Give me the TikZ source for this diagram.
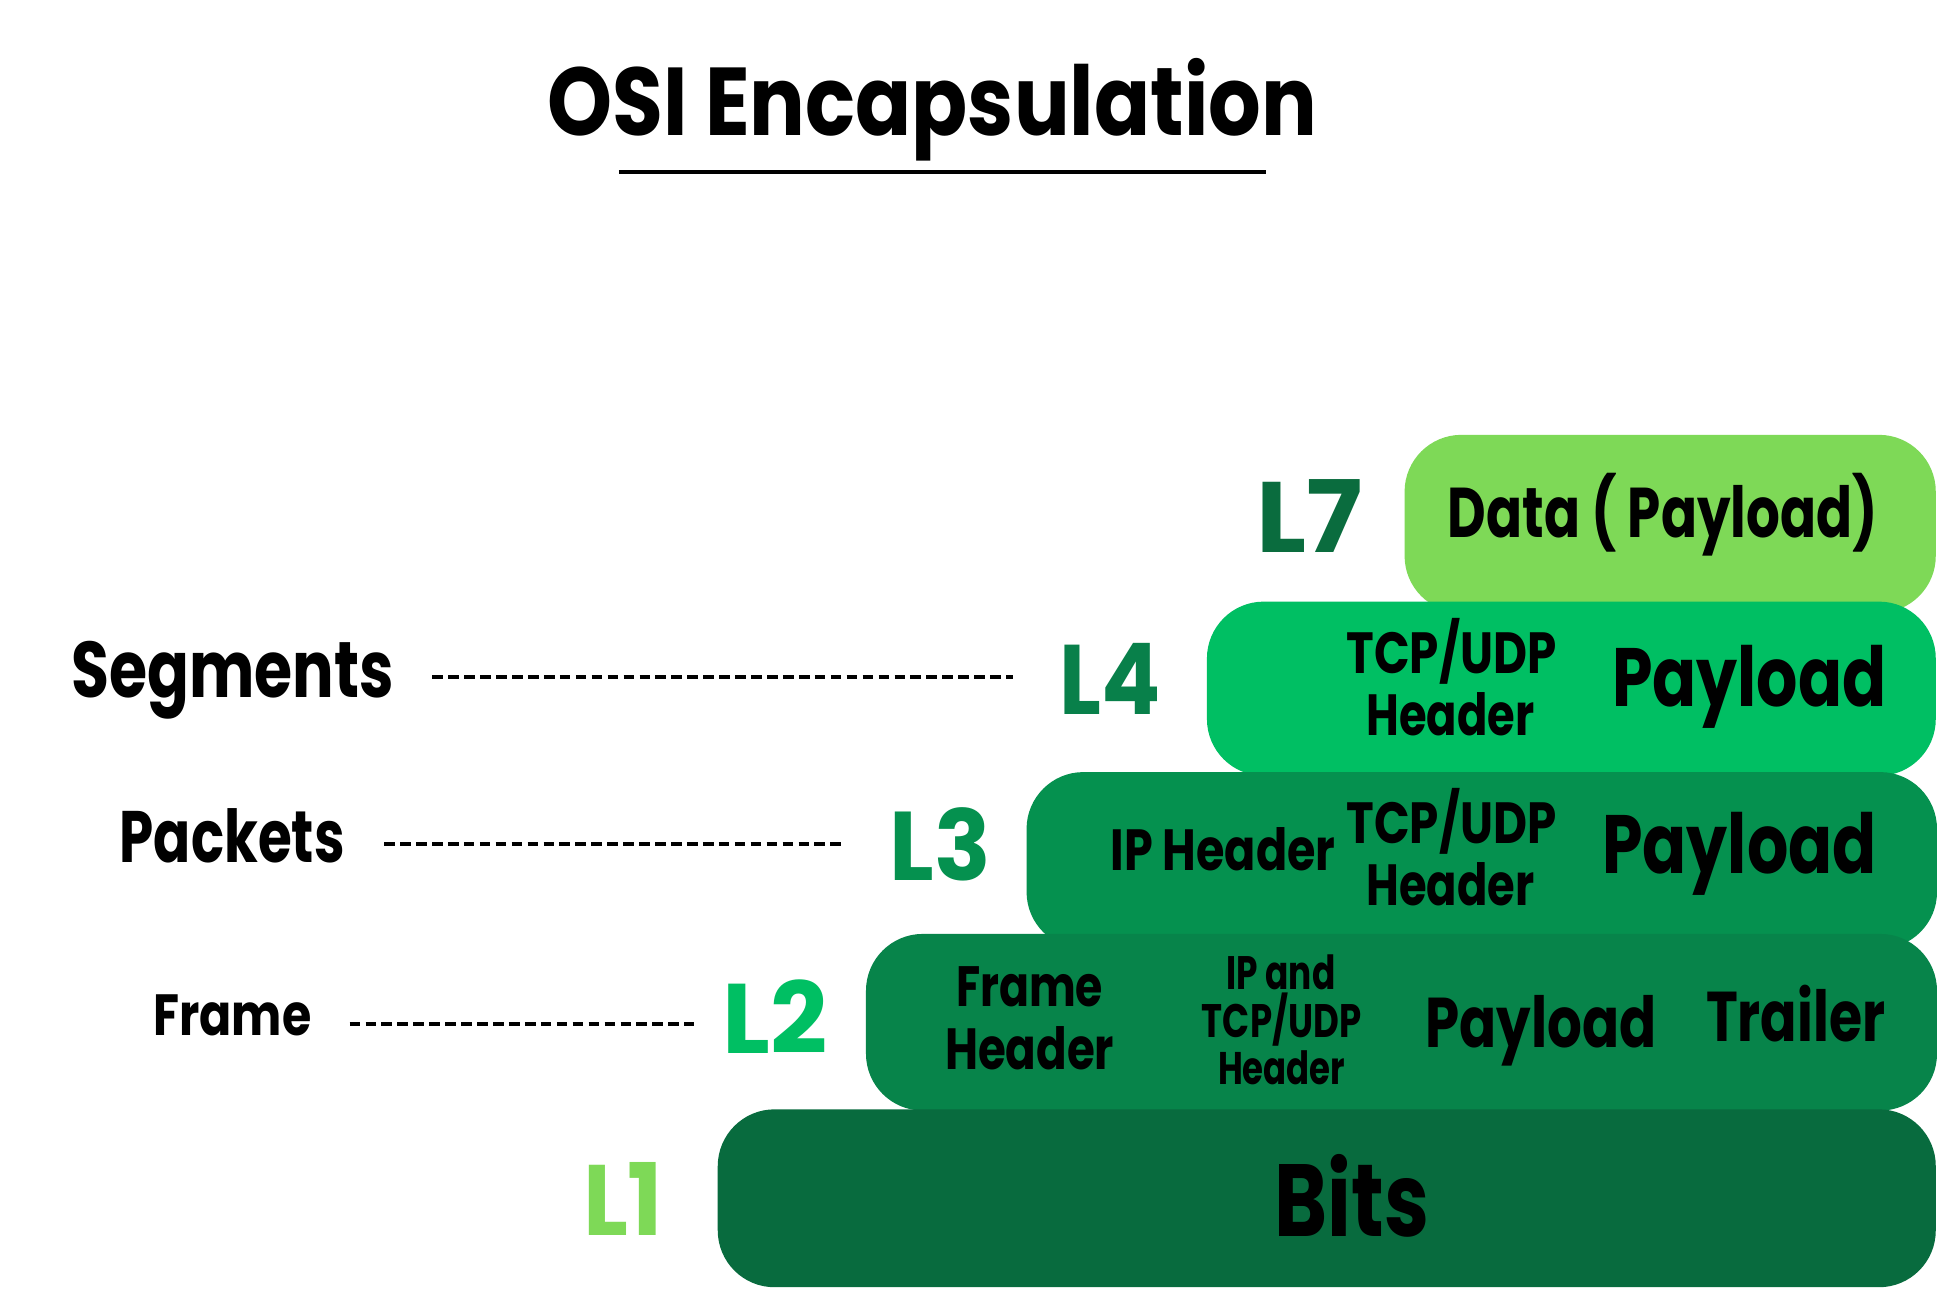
\documentclass[tikz,border=0pt]{standalone}
\usepackage{fontspec}
\usepackage{graphicx}
\setmainfont{Poppins}
\definecolor{cbA}{HTML}{7ED957}
\definecolor{cbB}{HTML}{00BF63}
\definecolor{cbC}{HTML}{05914F}
\definecolor{cbD}{HTML}{07844A}
\definecolor{cbE}{HTML}{086B3E}
\definecolor{clA}{HTML}{0A6C3E}
\definecolor{clB}{HTML}{08804A}
% text fitted to width w, cap height c
\newcommand\fitw[3]{\fontsize{#2}{#2}\selectfont\resizebox{#1}{\height}{#3}}
\tikzset{
  txt/.style={anchor=base west, inner sep=0pt, outer sep=0pt, font=\bfseries},
  layerbox/.style={rounded corners=46pt, inner sep=0pt, draw=none},
  guide/.style={line width=3.2pt, dash pattern=on 8.6pt off 4.3pt},
}
\begin{document}
\begin{tikzpicture}[x=1pt,y=-1pt]
\useasboundingbox (0,0) rectangle (1568,1049);
\clip (0,0) rectangle (1568,1049);
\fill[white] (0,0) rectangle (1568,1049);
% title
\node[txt] (title) at (443,110) {\fitw{623pt}{78pt}{OSI Encapsulation}};
\coordinate (ulA) at (501,139);
\coordinate (ulB) at (1025,139);
\draw[line width=3pt] (ulA) -- (ulB);
% boxes (drawn top to bottom)
\path[fill=cbA, layerbox] (1137,352) rectangle (1567,496);
\node[inner sep=0] (b7) at (1352,424) {};
\path[fill=cbB, layerbox] (977,487) rectangle (1567,628);
\node[inner sep=0] (b4) at (1272,557) {};
\path[fill=cbC, layerbox] (831,625) rectangle (1568,768);
\node[inner sep=0] (b3) at (1205,696) {};
\path[fill=cbD, layerbox] (701,756) rectangle (1568,899);
\node[inner sep=0] (b2) at (1140,827) {};
\path[fill=cbE, layerbox] (581,898) rectangle (1567,1042);
\node[inner sep=0] (b1) at (1080,970) {};
% layer labels
\node[txt, text=clA] (l7) at (1017,447) {\fitw{86pt}{81pt}{L7}};
\node[txt, text=clB] (l4) at (858,578) {\fitw{82pt}{80pt}{L4}};
\node[txt, text=cbC] (l3) at (720,713) {\fitw{82pt}{79pt}{L3}};
\node[txt, text=cbB] (l2) at (585,853) {\fitw{85pt}{80pt}{L2}};
\node[txt, text=cbA] (l1) at (472,1000) {\fitw{65pt}{81pt}{L1}};
% box texts
\node[txt] (t7) at (1172,435) {\fitw{348pt}{57pt}{Data ( Payload)}};
\node[txt] (t4a) at (1090,545) {\fitw{170pt}{47pt}{TCP/UDP}};
\node[txt] (t4b) at (1106,595) {\fitw{136pt}{47pt}{Header}};
\node[txt] (t4c) at (1305,572) {\fitw{222pt}{67pt}{Payload}};
\node[txt] (t3a) at (899,705) {\fitw{182pt}{47pt}{IP Header}};
\node[txt] (t3b) at (1090,683) {\fitw{170pt}{47pt}{TCP/UDP}};
\node[txt] (t3c) at (1106,733) {\fitw{136pt}{47pt}{Header}};
\node[txt] (t3d) at (1297,707) {\fitw{222pt}{67pt}{Payload}};
\node[txt] (t2a) at (774,815) {\fitw{119pt}{46pt}{Frame}};
\node[txt] (t2b) at (765,866) {\fitw{137pt}{47pt}{Header}};
\node[txt] (t2c) at (993,801) {\fitw{88pt}{38pt}{IP and}};
\node[txt] (t2d) at (973,840) {\fitw{129pt}{38pt}{TCP/UDP}};
\node[txt] (t2e) at (986,878) {\fitw{103pt}{37pt}{Header}};
\node[txt] (t2f) at (1154,848) {\fitw{187pt}{57pt}{Payload}};
\node[txt] (t2g) at (1381,843) {\fitw{145pt}{57pt}{Trailer}};
\node[txt] (t1) at (1032,1001) {\fitw{125pt}{83pt}{Bits}};
% left names
\node[txt] (seg) at (58,565) {\fitw{261pt}{64pt}{Segments}};
\node[txt] (pkt) at (97,698) {\fitw{182pt}{59pt}{Packets}};
\node[txt] (frm) at (124,838) {\fitw{128pt}{47pt}{Frame}};
% dashed guides
\coordinate (gsA) at (350,548); \coordinate (gsB) at (820,548);
\coordinate (gpA) at (311,683); \coordinate (gpB) at (682,683);
\coordinate (gfA) at (283,829); \coordinate (gfB) at (562,829);
\draw[guide] (gsA) -- (gsB);
\draw[guide] (gpA) -- (gpB);
\draw[guide] (gfA) -- (gfB);
\end{tikzpicture}
\end{document}
